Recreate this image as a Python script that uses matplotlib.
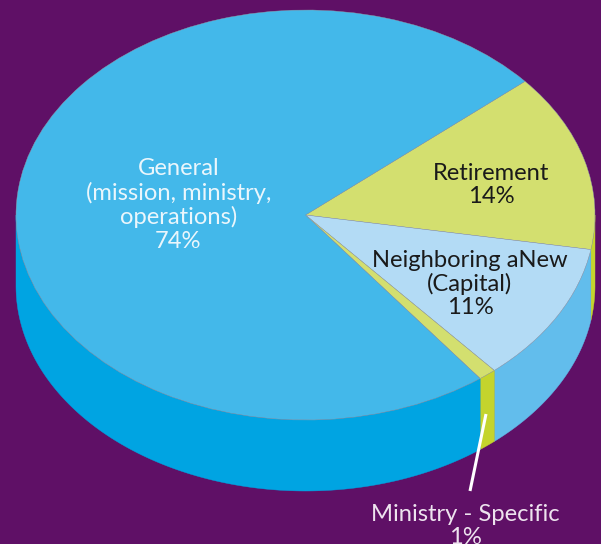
import numpy as np
import matplotlib
matplotlib.use("Agg")
import matplotlib.pyplot as plt

categories = ["General", "Retirement", "Neighboring aNew", "Ministry - Specific"]
values = [74, 14, 11, 1]
labels = ["General\n(mission, ministry,\noperations)\n74%", "Retirement\n14%",
          "Neighboring aNew\n(Capital)\n11%", "Ministry - Specific\n1%"]
order = [1, 2, 3, 0]  # clockwise from the start angle
top_colors = ["#43B8EA", "#D3DF6F", "#B3DBF5", "#D3DF6F"]
side_colors = ["#00A4E2", "#C4D42D", "#62BDEC", "#C4D42D"]
BG = "#5F1066"
W, H = 601, 544
cx, cy, rx, ry, depth = 305.5, 215, 289.5, 205, 71
start = 40.7

plt.rcParams["font.family"] = ["Lato", "DejaVu Sans"]
fig = plt.figure(figsize=(W / 100, H / 100), dpi=100, facecolor=BG)
ax = fig.add_axes([0, 0, 1, 1])
ax.set_facecolor(BG)

# side walls
d = depth / ry
a = start
for i in order:
    a2 = a - values[i] * 3.6
    hi, lo = min(a, 0), max(a2, -180)
    if i == 0:  # the general slice wraps round the back; only its front shows
        hi, lo = a if a <= 0 else 0, -180
    if hi > lo:
        t = np.radians(np.linspace(hi, lo, 200))
        xs = np.cos(t)
        ys = np.sin(t)
        ax.fill(np.r_[xs, xs[::-1]], np.r_[ys, ys[::-1] - d],
                fc=side_colors[i], ec=side_colors[i], lw=0.3, zorder=1)
    a = a2

# top face
ordered = [values[i] for i in order]
wedges, _ = ax.pie(ordered, colors=[top_colors[i] for i in order], startangle=start,
                   counterclock=False, radius=1, center=(0, 0),
                   wedgeprops=dict(lw=0.3, ec="#8fa0a8"))
for w in wedges:
    w.set_zorder(2)

ax.set_aspect("auto")
ax.set_xlim((0 - cx) / rx, (W - cx) / rx)
ax.set_ylim((cy - H) / ry, cy / ry)
ax.axis("off")

def px(x, y):
    return (x - cx) / rx, (cy - y) / ry

fs = 17.1
txt = dict(ha="center", va="center", fontsize=fs, linespacing=1.13, zorder=5)
ax.text(*px(178.5, 205), labels[0], color="#EAF6FC", **txt)
ax.text(*px(491, 185), labels[1], color="#1A1A1A", **txt)
ax.text(*px(470, 284), labels[2], color="#1A1A1A", **txt)
ax.text(*px(465, 526), labels[3], color="#EDE3EE", clip_on=True, **txt)

# leader line
xa, ya = px(486, 414)
xb, yb = px(470, 491)
ax.plot([xa, xb], [ya, yb], color="white", lw=2.2, zorder=6, solid_capstyle="butt")

fig.savefig("out.png", dpi=100, facecolor=BG)
